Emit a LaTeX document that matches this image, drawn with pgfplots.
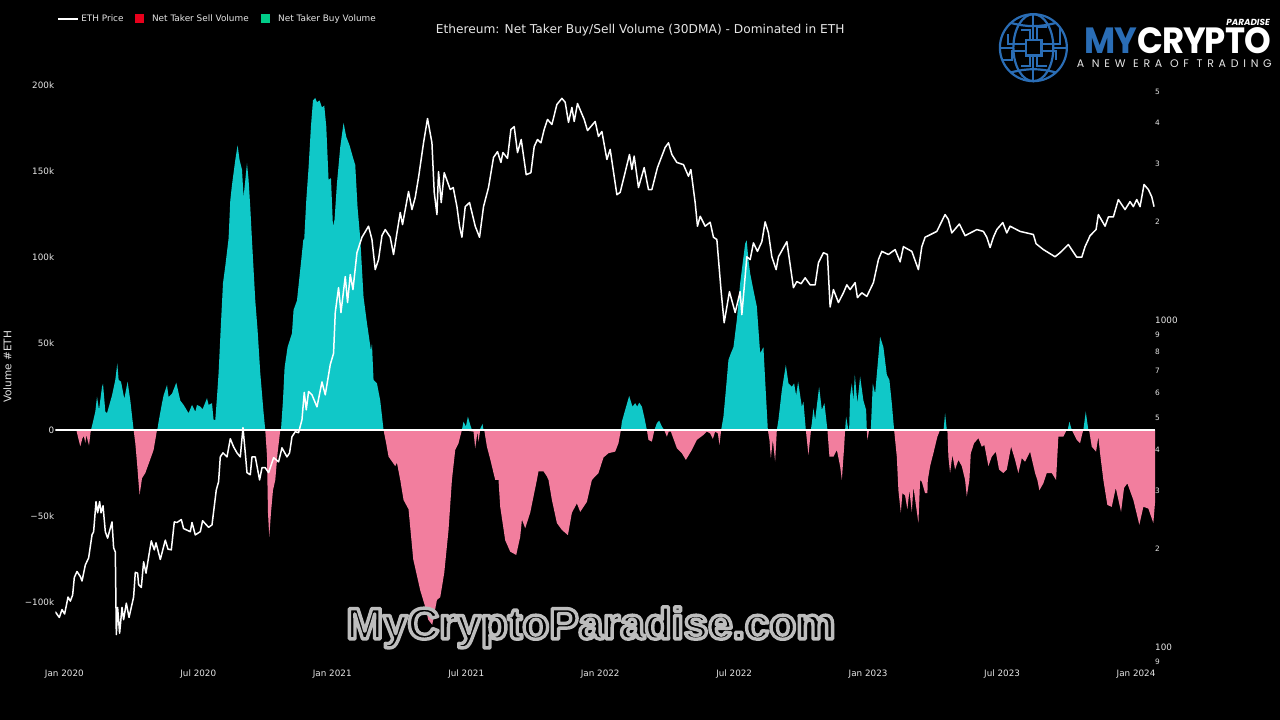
\documentclass[border=0pt]{standalone}
\usepackage{pgfplots}
\pgfplotsset{compat=1.18}
\usepackage{fontspec}
\setmainfont{DejaVu Sans}
\newfontfamily\wmfont{Liberation Sans}[BoldFont={Liberation Sans Bold}]
\newfontfamily\logofont{Poppins}
\definecolor{buyfill}{HTML}{10C8C8}
\definecolor{sellfill}{HTML}{F27E9E}
\definecolor{lab}{HTML}{E6E6E6}
\definecolor{legred}{HTML}{E8001C}
\definecolor{leggreen}{HTML}{00CC88}
\definecolor{logoblue}{HTML}{2A6DB5}
\newcommand{\fs}[1]{\fontsize{#1}{#1}\selectfont}
\begin{document}
\begin{tikzpicture}[x=1pt,y=1pt]
\fill[black] (0,0) rectangle (1280,720);
\begin{axis}[
  at={(55pt,55pt)},anchor=south west,
  scale only axis,width=1100pt,height=595pt,
  xmin=55,xmax=1155,ymin=-136.2,ymax=208.7,
  axis line style={draw=none},tick style={draw=none},major tick length=0pt,
  xtick={64,198,332,466,600,734,868,1002,1136},
  xticklabels={Jan 2020,Jul 2020,Jan 2021,Jul 2021,Jan 2022,Jul 2022,Jan 2023,Jul 2023,Jan 2024},
  ytick={-100,-50,0,50,100,150,200},
  yticklabels={−100k,−50k,0,50k,100k,150k,200k},
  ytick pos=left,xtick pos=bottom,
  tick label style={font=\fs{8.8},text=lab,inner sep=0pt},
  xticklabel style={yshift=-5pt},
  yticklabel style={xshift=-1pt},
  every axis y label/.style={at={(rel axis cs:-0.0436,0.5008)},rotate=90,anchor=center},
  ylabel={\fs{10.5}\color{lab}Volume \#ETH},
  every axis title/.style={at={(rel axis cs:0.5318,1.067)},anchor=center},
  title={\fs{12.2}\color{lab}Ethereum: Net Taker Buy/Sell Volume (30DMA) - Dominated in ETH},
  legend style={at={(0.0018,1.0857)},anchor=west,draw=none,fill=none,inner sep=0pt,
    legend columns=3,font=\fs{8.9},text=lab,
    /tikz/column 1/.style={column sep=2.5pt},
    /tikz/column 2/.style={column sep=11.5pt},
    /tikz/column 3/.style={column sep=8pt},
    /tikz/column 4/.style={column sep=12.5pt},
    /tikz/column 5/.style={column sep=8pt},
    nodes={inner sep=0pt}},
  legend cell align=left,
]
\addlegendimage{legend image code/.code={\draw[white,line width=1.3pt] (0pt,0pt)--(20pt,0pt);}}
\addlegendentry{ETH Price}
\addlegendimage{legend image code/.code={\fill[legred,draw=none] (0pt,-4.5pt) rectangle (9pt,4.5pt);}}
\addlegendentry{Net Taker Sell Volume}
\addlegendimage{legend image code/.code={\fill[leggreen,draw=none] (0pt,-4.5pt) rectangle (9pt,4.5pt);}}
\addlegendentry{Net Taker Buy Volume}
% Net taker buy volume, in thousands of ETH
\addplot[fill=buyfill,draw=none,forget plot] coordinates {
(90.7,0)(92.7,4.8)(95,10.6)(96.7,19.3)(98.7,11.6)(101.7,25)(102.7,26.7)(105,10.6)(106.7,9.7)(111.7,20)(115,29)(117,38.6)(118.3,29)(120.7,28)(124,18)(127.3,28)(130,17)(133.3,0)
(156.7,0)(157.3,1)(158.3,4.8)(161.7,15.5)(163.3,20)(166.7,26)(168.3,19)(171.7,21)(176,27.4)(180,17)(183.3,14.5)(188.3,9.7)(191.7,14.5)(195,10.6)(196.7,14.5)(200,13.5)(202.3,12)(206.7,18.4)(208.3,14.5)(211.7,15.5)(213.3,5.8)(215,5.8)(216.7,19)(218.3,33)(220.7,62)(222.7,85)(225,95)(228.3,111)(230,133)(231.7,142)(235,156.5)(237.3,165)(239.3,156.5)(241.7,151)(243.3,135)(246.7,154.6)(248.3,145)(250,129)(251.7,110)(255,75)(257.3,58)(260,33)(263.3,10)(265,0)
(280,0)(280.7,0)(282.7,17)(284.3,36)(287.3,48)(291.7,56)(293.3,69.6)(296.7,75)(301,98.6)(303,110)(304,111)(306,133)(308.3,152)(310.7,176)(312.7,191)(315,192.5)(316.7,190)(319.3,191)(321.7,187)(324,188)(326,176)(328.3,145)(330.7,146)(332.7,118)(334.3,122)(336.7,143)(340,164)(343.3,178)(346,170)(349.3,165)(352.7,158)(355,153.6)(357.3,129)(360,111)(363.3,77)(366.7,62)(370.7,46)(371.7,50)(373.3,29)(376.7,27)(380,17)(383.3,0)
(461.7,0)(463.3,4.8)(465.7,2)(467.7,7.7)(470,3)(471.7,0)
(479.5,0)(482.3,3.5)(483.3,0)
(620.7,0)(621.7,4.8)(625,11.6)(629,19.7)(632.3,13.5)(635,15.5)(637,13.5)(639,15.8)(641.7,13.5)(644,7.7)(646.7,0)
(654.3,0)(656.7,3.9)(659,5.4)(661.7,2)(664,0)
(721,0)(723.3,7.7)(726,25)(728.3,40.6)(730.7,44.4)(733.3,48)(736.7,63.8)(740,85)(745,108)(746.5,110)(748.3,98.6)(750,90.8)(753.3,81)(756.7,71.5)(760,44.4)(763.3,48)(765,29)(767.7,0)
(776.7,0)(778.3,5.8)(781.7,23)(785.7,37.7)(788.3,27)(791.7,25)(794,27)(796,20)(798,28)(801.7,13.5)(803.3,16.4)(805.7,0)
(810.7,0)(811.7,3.9)(813.3,12.6)(815,5.8)(819,25)(821.7,11.6)(824.3,15.5)(827.3,0)
(845,0)(846,7.7)(848.3,0)(849,0)(850,20)(851.7,27)(853.3,17)(854.7,32)(857.3,15.5)(860,31)(863.3,17)(866,11.6)(866.7,0)
(870.7,0)(872.7,27)(875,21)(880,54)(883.3,48)(886.7,32)(889.3,29)(891.7,15.5)(894,0)
(943.5,0)(945,9.7)(946.7,0)
(1067.7,0)(1069.3,4.8)(1071.7,0)
(1083.3,0)(1085.7,10.6)(1088.3,0)
} \closedcycle;
% Net taker sell volume, in thousands of ETH
\addplot[fill=sellfill,draw=none,forget plot] coordinates {
(76,0)(78,-5)(80,-9.5)(82,-5)(83.5,-3.5)(85,-7.5)(86,-3)(88.7,-9)(90.3,-1)(91,0)
(133.3,0)(135,-7.7)(136.7,-19)(138.3,-31)(139.3,-37.7)(141.7,-28)(145,-25)(150,-17)(153.3,-11.6)(156.7,0)
(265,0)(266.7,-15)(267.7,-48)(269,-62)(270.7,-48)(272.7,-35)(275,-29)(277.3,-13.5)(280,0)
(383.3,0)(386,-8)(388.3,-15.5)(395,-21)(396.7,-19)(400,-29)(403.3,-40.6)(408.3,-46)(413,-75)(420,-93)(425,-102.6)(428,-110)(432,-113)(436.7,-98.6)(440,-97)(444,-83)(448.3,-58)(451.7,-29)(455,-11.6)(458.3,-7.7)(461.7,0)
(473.3,-1)(475,-10.6)(477.3,-1)(478.3,-6.8)(480,0)
(484,0)(486.7,-9.7)(490,-17)(495,-29)(498.3,-29)(500,-44.6)(505,-64)(510,-70.6)(516,-72.5)(520,-62)(521.7,-52)(525,-57)(530,-48)(536.7,-29)(538.3,-24)(543.3,-24)(546.7,-27)(548.3,-29)(551.7,-40.6)(556.7,-54)(561.7,-58)(567.7,-61)(571.7,-48)(576.7,-42.6)(580,-47.5)(586.7,-41.7)(591.7,-29)(598.3,-25)(603.3,-16)(608.3,-13.5)(615,-12.6)(618.3,-7.7)(620.7,0)
(646.7,0)(648.3,-5.8)(651.7,-6.8)(654.3,0)
(664,0)(666.7,-3.9)(668.5,-1)(670.7,-1)(676.7,-10.6)(681.7,-13.5)(685.7,-17.4)(691.7,-11.6)(696.7,-5.8)(703.3,-2.9)(706.7,-1)(710,-2)(712.7,-5.2)(715,-1)(717.7,-2)(719.3,-8.7)(721,0)
(767.7,0)(769.3,-5.8)(770.7,-16.4)(772.7,-5.8)(775,-18.4)(776.7,0)
(805.7,0)(808.3,-14.5)(810.7,-1)(811,0)
(827.3,0)(829.3,-15.5)(833.3,-15.5)(836.7,-11.6)(840,-21)(841.7,-29)(844,-10)(845,0)
(866.7,0)(867.3,-5.8)(869,0)
(894,0)(896.7,-15.5)(898.3,-35)(900.7,-48)(902.3,-36.7)(905,-38)(907.3,-46)(909.3,-35)(911.7,-47.5)(913.3,-33)(918.3,-54)(920,-29)(921.7,-30)(925,-36.7)(927.3,-36.7)(927.7,-29)(930,-21)(933.3,-13.5)(937.3,-3.9)(940,0)(947.3,0)
(948.3,-15.5)(950,-25)(952.3,-14.5)(955,-23)(958.3,-17.4)(961.7,-21)(965,-29)(966.7,-38.6)(969.3,-29)(970.7,-13.5)(974,-7.7)(978.3,-4.8)(981.7,-9.7)(984.3,-8.7)(988.3,-21)(991.7,-15.5)(995.7,-12.6)(999,-23)(1003.3,-25)(1006.7,-23)(1011,-9.7)(1015,-17.4)(1018.3,-25)(1021.7,-16.4)(1025,-18.4)(1030,-12.6)(1035,-25)(1037.3,-29)(1039.3,-35)(1043.3,-31)(1046.7,-25)(1051.7,-25)(1056,-29)(1058.3,-3.9)(1063.3,-3.9)(1066.7,0)
(1071.7,0)(1076.7,-5.8)(1080,-7.7)(1082.3,-2)(1083.3,0)
(1088.3,0)(1089.3,-1)(1091.7,-9.7)(1096,-12.6)(1098.3,-3.9)(1100,-13.5)(1103.3,-29)(1107.3,-43.5)(1111.7,-44.6)(1115.7,-33.6)(1121,-47.5)(1124,-33.6)(1127.3,-31)(1133.3,-40.6)(1139.3,-55)(1143.3,-44.6)(1148.3,-45.6)(1153.3,-54)(1155,-42)(1155,0)
} \closedcycle;
\addplot[white,line width=1.4pt,forget plot] coordinates {(55,0)(1155,0)};
\end{axis}
\begin{axis}[
  at={(55pt,55pt)},anchor=south west,
  scale only axis,width=1100pt,height=595pt,
  xmin=55,xmax=1155,ymode=log,ymin=88.1,ymax=5814,
  axis line style={draw=none},tick style={draw=none},major tick length=0pt,
  hide x axis,axis y line*=right,
  minor tick num=0,
  ytick={90,100,200,300,400,500,600,700,800,900,1000,2000,3000,4000,5000},
  yticklabels={{\fs{7.4}9},100,{\fs{7.4}2},{\fs{7.4}3},{\fs{7.4}4},{\fs{7.4}5},{\fs{7.4}6},{\fs{7.4}7},{\fs{7.4}8},{\fs{7.4}9},1000,{\fs{7.4}2},{\fs{7.4}3},{\fs{7.4}4},{\fs{7.4}5}},
  tick label style={font=\fs{8.8},text=lab,inner sep=0pt},
  yticklabel style={anchor=west,xshift=0pt},
]
% ETH price, USD
\addplot[white,line width=1.5pt,line join=round] coordinates {
(55,128)(57.3,125)(59,123)(61.7,130)(64.3,126)(67.7,142)(70,138)(72.3,144)(74,163)(76.7,170)(80,164)(81.7,159)(85,178)(88.3,187)(91.7,220)(93.3,225)(95.7,278)(97.3,257)(99.3,278)(100.7,257)(102.7,270)(105,225)(107.3,215)(111.7,241)(113.3,201)(115,195)(116,109)(117.3,132)(119.3,110)(121.7,132)(123.3,121)(126,136)(128.7,123)(133.3,142)(135,169)(137.3,168)(138.3,155)(141,152)(143.3,182)(145.7,168)(149,194)(151,211)(154,198)(155.7,208)(160,185)(165,212)(167.7,199)(171,198)(174,241)(176.7,240)(181,245)(183.3,230)(190,225)(191.7,240)(195,220)(200,225)(202.3,243)(208.3,232)(211.7,236)(216,302)(218.3,320)(220,381)(222.7,392)(226.7,381)(230,433)(233.3,409)(236.7,392)(240,381)(242.7,468)(245,392)(246.7,341)(250,336)(251.7,381)(255,381)(259.3,324)(261.7,353)(265,353)(268.3,341)(273.3,379)(278.3,368)(281.7,406)(286.7,381)(289.3,392)(291.7,439)(295,455)(298.3,452)(301.7,495)(304,600)(306,531)(308.3,604)(311.7,590)(316.7,542)(321.7,646)(325,590)(330,730)(333.3,790)(335,1053)(338.3,1255)(340.7,1053)(345,1357)(347.3,1130)(350,1376)(352.7,1238)(356.7,1605)(361.7,1790)(368.3,1935)(371.7,1761)(375,1425)(378.3,1529)(381.7,1810)(385,1889)(390,1790)(393.3,1585)(396.7,1845)(400,2130)(402.3,1957)(408.3,2470)(411.7,2175)(415,2370)(418.3,2725)(423.3,3480)(427.3,4130)(431.7,3480)(434,2455)(436.7,2100)(438.3,2840)(441,2285)(444,2820)(450,2505)(453,2540)(456.7,2220)(459.3,1935)(461.7,1790)(465,2220)(469.3,2285)(475,1935)(479.3,1790)(483.3,2220)(488.3,2540)(493.3,3140)(497.3,3270)(500.7,3030)(502.7,3250)(507.3,3120)(510.7,3824)(514,3900)(517.3,3250)(521,3563)(526,2780)(530.7,2820)(534,3390)(537.3,3563)(540.7,3480)(544,3824)(547.3,4103)(551.7,3960)(556.7,4560)(561.7,4760)(565,4630)(568.3,4020)(571.7,4465)(574,4045)(577.3,4590)(584,4103)(587.3,3795)(595,4045)(598.3,3640)(601.7,3770)(606.7,3095)(610,3321)(616.7,2415)(620,2455)(624,2750)(629.3,3205)(631.7,2884)(634,3170)(638.3,2540)(644,2925)(648.3,2505)(651.7,2505)(657.3,2925)(665,3370)(668.3,3480)(671.7,3205)(676.7,3030)(683.3,2985)(688.3,2750)(690.7,2884)(695,2285)(697.3,1935)(700,2075)(705,1935)(710,1990)(713.3,1790)(716.7,1761)(721,1220)(724,980)(729.3,1220)(735,1053)(740,1220)(741.7,1038)(746.7,1560)(750,1529)(753.3,1720)(757.3,1620)(761.7,1735)(765,1995)(768.3,1845)(771.7,1560)(776,1425)(778.3,1560)(786.7,1735)(793.3,1255)(796.7,1310)(801,1290)(805,1345)(810,1280)(815,1280)(818.3,1495)(823.3,1605)(827.3,1585)(830,1095)(833.3,1238)(838.3,1130)(843.3,1210)(846.7,1280)(850,1238)(855,1300)(857.3,1170)(861.7,1210)(866.7,1180)(873.3,1300)(878.3,1529)(881.7,1620)(888.3,1585)(895,1641)(900,1505)(903.3,1675)(911.7,1620)(918.3,1425)(921.7,1675)(925,1790)(936.7,1865)(945,2100)(948.3,2027)(951.7,1845)(959.3,1965)(965,1810)(976.7,1889)(983.3,1865)(986.7,1790)(990,1665)(993.3,1790)(996.7,1889)(1002.7,1985)(1006.7,1845)(1010,1935)(1020,1865)(1033.3,1825)(1036,1710)(1043.3,1641)(1055,1560)(1060,1605)(1068.3,1700)(1076.7,1555)(1081.7,1555)(1085,1675)(1088.3,1761)(1090,1810)(1096,1889)(1098.3,2100)(1105,1935)(1108.3,2065)(1113.3,2065)(1118.3,2334)(1125,2175)(1130,2300)(1133.3,2220)(1136.7,2334)(1140,2220)(1144,2595)(1148.3,2505)(1151.7,2380)(1154,2220)
};
\end{axis}
\begin{scope}[x=1pt,y=-1pt,yshift=720pt]
% watermark
\node[anchor=base west,inner sep=0pt] at (346,639) {\special{pdf:code q 1 j 2 Tr 3.4 w 0.74 0.74 0.74 RG 0 0 0 rg}{\wmfont\bfseries\fs{44}MyCryptoParadise.com}\special{pdf:code Q}};
% logo
\begin{scope}[draw=logoblue,line width=2.2pt]
\draw (1033.3,47.7) circle (33.5);
\draw (1033.3,47.7) ellipse (20 and 33.5);
\draw (1033.3,14.2)--(1033.3,39);
\draw (1033.3,56)--(1033.3,81.2);
\draw (1011,23) to[bend right=14] (1055.6,23);
\draw (1011,72.4) to[bend left=14] (1055.6,72.4);
\draw (1000,47.7)--(1014,47.7);
\draw (1052,47.7)--(1066.8,47.7);
\draw (1026,40) rectangle (1041.5,55.5);
\draw[line width=1.6pt] (1030,40)--(1030,30)--(1021,30);
\draw[line width=1.6pt] (1037,40)--(1037,27)--(1047,27);
\draw[line width=1.6pt] (1026,44)--(1008,44)--(1008,34);
\draw[line width=1.6pt] (1026,51)--(1012,51)--(1012,60)--(1003,60);
\draw[line width=1.6pt] (1042,44)--(1060,44)--(1060,27);
\draw[line width=1.6pt] (1042,51)--(1056,51)--(1056,60);
\draw[line width=1.6pt] (1030,56)--(1030,66)--(1021,66);
\draw[line width=1.6pt] (1037,56)--(1037,66)--(1047,66);
\end{scope}
\node[anchor=base east,inner sep=0pt,text=white] at (1270,26) {\logofont\bfseries\itshape\fs{8.8}PARADISE};
\node[anchor=base west,inner sep=0pt] at (1084,53.5) {\scalebox{0.93}[1]{\logofont\bfseries\fs{36.5}\addfontfeature{LetterSpace=-3}{\color{logoblue}MY}\color{white}CRYPTO}};
\node[anchor=base east,inner sep=0pt,text=lab] at (1272,68) {\logofont\fs{11}\addfontfeature{LetterSpace=43}A NEW ERA OF TRADING};
\end{scope}
\end{tikzpicture}
\end{document}
